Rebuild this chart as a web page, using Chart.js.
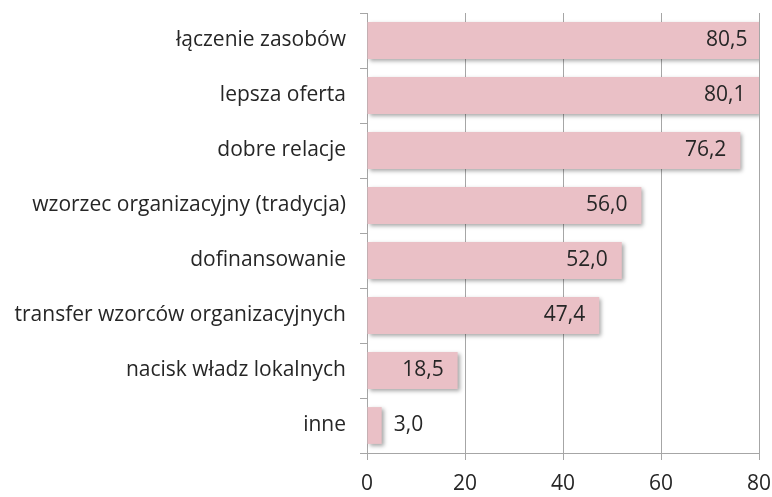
<!DOCTYPE html>
<html>
<head>
<meta charset="utf-8">
<script src="https://cdn.jsdelivr.net/npm/chart.js@4"></script>
<style>
  html, body { margin: 0; padding: 0; background: #fff; }
  #wrap { width: 772px; height: 497px; }
</style>
</head>
<body>
<div id="wrap"><canvas id="barChart"></canvas></div>
<script>
const categories = [
    'łączenie zasobów',
    'lepsza oferta',
    'dobre relacje',
    'wzorzec organizacyjny (tradycja)',
    'dofinansowanie',
    'transfer wzorców organizacyjnych',
    'nacisk władz lokalnych',
    'inne'
];
const values = [80.5, 80.1, 76.2, 56.0, 52.0, 47.4, 18.5, 3.0];
const xTicks = [0, 20, 40, 60, 80];

const fontFamily = '"Open Sans", "Noto Sans", sans-serif';
const fontSize = 21;
const fmt = v => v.toFixed(1).replace('.', ',');

// cien pod slupkami
const shadowPlugin = {
    id: 'barShadow',
    beforeDatasetsDraw(chart) {
        const c = chart.ctx;
        c.save();
        c.shadowColor = 'rgba(0, 0, 0, 0.35)';
        c.shadowBlur = 4;
        c.shadowOffsetX = 2;
        c.shadowOffsetY = 2;
    },
    afterDatasetsDraw(chart) {
        chart.ctx.restore();
    }
};

// etykiety wartosci
const labelPlugin = {
    id: 'valueLabels',
    afterDatasetsDraw(chart) {
        const c = chart.ctx;
        const meta = chart.getDatasetMeta(0);
        c.save();
        c.font = fontSize + 'px ' + fontFamily;
        c.fillStyle = '#262626';
        c.textBaseline = 'middle';
        meta.data.forEach((bar, i) => {
            const txt = fmt(values[i]);
            const w = c.measureText(txt).width;
            const barW = bar.x - bar.base;
            if (barW > w + 24) {
                c.textAlign = 'right';
                c.fillText(txt, bar.x - 14, bar.y);
            } else {
                c.textAlign = 'left';
                c.fillText(txt, bar.x + 12, bar.y);
            }
        });
        c.restore();
    }
};

new Chart(document.getElementById('barChart'), {
    type: 'bar',
    data: {
        labels: categories,
        datasets: [{
            data: values,
            backgroundColor: '#eac0c6',
            borderWidth: 0,
            barPercentage: 0.67,
            categoryPercentage: 1
        }]
    },
    options: {
        indexAxis: 'y',
        responsive: true,
        maintainAspectRatio: false,
        animation: false,
        layout: { padding: { top: 13, right: 13, left: 0, bottom: 0 } },
        plugins: {
            legend: { display: false },
            tooltip: { enabled: false }
        },
        scales: {
            x: {
                min: 0,
                max: 80,
                afterBuildTicks: scale => { scale.ticks = xTicks.map(v => ({ value: v })); },
                afterFit: scale => {
                    scale.height = 44;
                    scale.paddingLeft = 0;
                    scale.paddingRight = 0;
                },
                grid: { color: '#a6a6a6', tickLength: 7, lineWidth: 1 },
                border: { color: '#a6a6a6' },
                ticks: { color: '#262626', font: { family: fontFamily, size: fontSize }, padding: 11 }
            },
            y: {
                afterFit: scale => {
                    scale.width = 367;
                    scale.paddingTop = 0;
                    scale.paddingBottom = 0;
                },
                grid: { drawOnChartArea: false, offset: true, color: '#a6a6a6', tickLength: 7 },
                border: { color: '#a6a6a6' },
                ticks: { color: '#262626', font: { family: fontFamily, size: fontSize }, padding: 14 }
            }
        }
    },
    plugins: [shadowPlugin, labelPlugin]
});
</script>
</body>
</html>
